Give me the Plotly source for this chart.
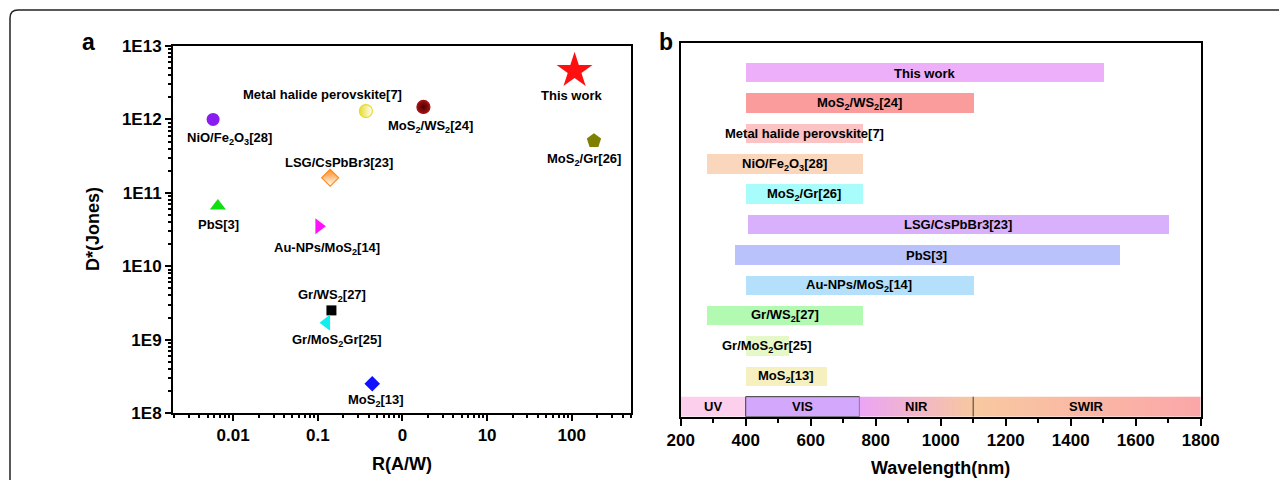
import numpy as np
import plotly.graph_objects as go

W, H = 1287, 480
FONT = "Liberation Sans"
OFF = 8  # page body margin

# ---------------- Panel a data ----------------
names_a = ["NiO/Fe<sub>2</sub>O<sub>3</sub>[28]", "PbS[3]", "Au-NPs/MoS<sub>2</sub>[14]",
           "Gr/WS<sub>2</sub>[27]", "Gr/MoS<sub>2</sub>Gr[25]", "MoS<sub>2</sub>[13]",
           "LSG/CsPbBr3[23]", "Metal halide perovskite[7]", "MoS<sub>2</sub>/WS<sub>2</sub>[24]",
           "This work", "MoS<sub>2</sub>/Gr[26]"]
responsivity = [0.0058, 0.0066, 0.103, 0.145, 0.127, 0.44, 0.14, 0.37, 1.77, 108, 183]
detectivity = [1.0e12, 6.6e10, 3.5e10, 2.5e9, 1.7e9, 2.5e8, 1.6e11, 1.3e12, 1.48e12, 4.6e12, 5.1e11]
r_tickvals = [0.01, 0.1, 1, 10, 100]
r_ticktext = ["0.01", "0.1", "0", "10", "100"]
d_tickvals = [1e8, 1e9, 1e10, 1e11, 1e12, 1e13]
d_ticktext = ["1E8", "1E9", "1E10", "1E11", "1E12", "1E13"]

# styles for panel a
sym_a = ["circle", "triangle-up", "triangle-right", "square", "triangle-left", "diamond",
         "diamond", "circle", "circle", "star", "pentagon"]
col_a = ["#8a1cf2", "#10e010", "#ff10ff", "#000000", "#10eef0", "#1010ff",
         "#ff8a1c", "#e6dc2a", "#a01010", "#ff1010", "#7f7f00"]
size_a = [13, 14, 14, 10, 14, 12, 13, 13, 13, 27, 15]
grad_a = [None, None, None, None, None, None,
          ("vertical", "#ffffff"), ("horizontal", "#ffffff"), ("radial", "#4a0000"), None, None]
# label offsets in pixels (dx right, dy down)
lab_off_a = [(16, 19), (1, 18), (8, 22), (1, -15), (10, 18), (4, 17),
             (9, -15), (-43, -17), (7, 20), (-3, 25), (-10, 19)]

# ---------------- Panel b data ----------------
names_b = ["This work", "MoS<sub>2</sub>/WS<sub>2</sub>[24]", "Metal halide perovskite[7]",
           "NiO/Fe<sub>2</sub>O<sub>3</sub>[28]", "MoS<sub>2</sub>/Gr[26]", "LSG/CsPbBr3[23]",
           "PbS[3]", "Au-NPs/MoS<sub>2</sub>[14]", "Gr/WS<sub>2</sub>[27]",
           "Gr/MoS<sub>2</sub>Gr[25]", "MoS<sub>2</sub>[13]"]
start_nm = [400, 400, 400, 280, 400, 405, 365, 400, 280, 400, 400]
end_nm = [1500, 1100, 760, 760, 760, 1700, 1550, 1100, 760, 532, 650]
rows_b = [11, 10, 9, 8, 7, 6, 5, 4, 3, 2, 1]
col_b = ["#edaefa", "#fa9c9c", "#fbc3c3", "#f9d6bc", "#a8fcfb", "#d8b0fb",
         "#b9c2fb", "#b5e0fb", "#b2f9b2", "#e6f7c8", "#f6f0c0"]

band_names = ["UV", "VIS", "NIR", "SWIR"]
band_edges = [200, 400, 750, 1100, 1800]
band_c0 = ["#fcd0ec", "#d3a7fb", "#eba5f6", "#f8c9a0"]
band_c1 = ["#fcd0ec", "#d3a7fb", "#f7c79f", "#fba6a9"]
wl_ticks = [200, 400, 600, 800, 1000, 1200, 1400, 1600, 1800]


def px(x):
    return (x - OFF) / W


def py(y):
    return 1 - (y - OFF) / H


fig = go.Figure()

# ---------- panel a traces ----------
for i in range(len(names_a)):
    mk = dict(symbol=sym_a[i], color=col_a[i], size=size_a[i], line=dict(width=0))
    if grad_a[i] is not None:
        mk["gradient"] = dict(type=grad_a[i][0], color=grad_a[i][1])
        mk["line"] = dict(width=1.2, color=col_a[i])
    fig.add_trace(go.Scatter(x=[responsivity[i]], y=[detectivity[i]], mode="markers",
                             marker=mk, xaxis="x", yaxis="y", showlegend=False,
                             hoverinfo="skip", cliponaxis=False))
    fig.add_annotation(x=np.log10(responsivity[i]), y=np.log10(detectivity[i]),
                       xref="x", yref="y", text=names_a[i], showarrow=False,
                       xanchor="center", yanchor="middle",
                       xshift=lab_off_a[i][0], yshift=-lab_off_a[i][1],
                       font=dict(size=13, color="black", family=FONT, weight="bold"))

# ---------- panel b traces ----------
widths = [e - s for s, e in zip(start_nm, end_nm)]
fig.add_trace(go.Bar(y=rows_b, x=widths, base=start_nm, orientation="h", width=0.64,
                     marker=dict(color=col_b, line=dict(width=0)),
                     xaxis="x2", yaxis="y2", showlegend=False, hoverinfo="skip"))
for i in range(len(names_b)):
    fig.add_annotation(x=(start_nm[i] + end_nm[i]) / 2, y=rows_b[i], xref="x2", yref="y2",
                       text=names_b[i], showarrow=False, xanchor="center", yanchor="middle",
                       font=dict(size=13, color="black", family=FONT, weight="bold"))

band_bottom, band_top = -0.32, 0.34
for i in range(len(band_names)):
    x0, x1 = band_edges[i], band_edges[i + 1]
    outline = dict(width=1, color="#3a3a3a") if band_names[i] == "VIS" else dict(width=0, color="rgba(0,0,0,0)")
    fig.add_trace(go.Scatter(x=[x0, x1, x1, x0, x0],
                             y=[band_bottom, band_bottom, band_top, band_top, band_bottom],
                             mode="lines", fill="toself", line=outline,
                             fillgradient=dict(type="horizontal",
                                               colorscale=[[0, band_c0[i]], [1, band_c1[i]]]),
                             xaxis="x2", yaxis="y2", showlegend=False, hoverinfo="skip"))
    fig.add_annotation(x=(x0 + x1) / 2, y=(band_bottom + band_top) / 2, xref="x2", yref="y2",
                       text=band_names[i], showarrow=False, xanchor="center", yanchor="middle",
                       font=dict(size=13, color="black", family=FONT, weight="bold"))
# dark divider at NIR/SWIR boundary
fig.add_trace(go.Scatter(x=[band_edges[3], band_edges[3]], y=[band_bottom, band_top],
                         mode="lines", line=dict(width=1, color="#3a3a3a"),
                         xaxis="x2", yaxis="y2", showlegend=False, hoverinfo="skip"))

axis_common = dict(showline=True, linecolor="black", linewidth=2, mirror=True,
                   showgrid=False, zeroline=False, ticks="outside", tickcolor="black",
                   tickwidth=1.8, ticklen=6, automargin=False,
                   tickfont=dict(size=17, color="black", family=FONT, weight="bold"))

fig.update_layout(
    width=W, height=H, autosize=False,
    margin=dict(l=0, r=0, t=0, b=0, pad=0, autoexpand=False),
    paper_bgcolor="white", plot_bgcolor="white",
    font=dict(family=FONT, color="black", weight="bold"),
    bargap=0,
    xaxis=dict(axis_common, type="log", domain=[px(173), px(631)], range=[-2.71, 2.70],
               tickmode="array", tickvals=r_tickvals, ticktext=r_ticktext, anchor="y",
               minor=dict(ticks="outside", ticklen=3, tickwidth=1.5, tickcolor="black",
                          dtick="D1", showgrid=False)),
    yaxis=dict(axis_common, type="log", domain=[py(413), py(46)], range=[8, 13],
               tickmode="array", tickvals=d_tickvals, ticktext=d_ticktext, anchor="x",
               minor=dict(ticks="outside", ticklen=3, tickwidth=1.5, tickcolor="black",
                          dtick="D1", showgrid=False)),
    xaxis2=dict(axis_common, domain=[px(680.7), px(1200.7)], range=[200, 1800],
                tickmode="array", tickvals=wl_ticks, anchor="y2", ticklen=7,
                minor=dict(ticks="outside", ticklen=4, tickwidth=1.5, tickcolor="black",
                           dtick=100, showgrid=False)),
    yaxis2=dict(showline=True, linecolor="black", linewidth=2, mirror=True, automargin=False,
                showgrid=False, zeroline=False, showticklabels=False, ticks="",
                domain=[py(416.7), py(43.3)], range=[-0.32, 11.98], anchor="x2"),
)

title_font = dict(size=18, family=FONT, weight="bold", color="black")
fig.add_annotation(x=px(93), y=py(229), xref="paper", yref="paper", text="D*(Jones)",
                   textangle=-90, showarrow=False, xanchor="center", yanchor="middle",
                   font=title_font)
fig.add_annotation(x=px(402), y=py(464), xref="paper", yref="paper", text="R(A/W)",
                   showarrow=False, xanchor="center", yanchor="middle", font=title_font)
fig.add_annotation(x=px(940.7), y=py(468), xref="paper", yref="paper", text="Wavelength(nm)",
                   showarrow=False, xanchor="center", yanchor="middle", font=title_font)
fig.add_annotation(x=px(88), y=py(42), xref="paper", yref="paper", text="a",
                   showarrow=False, xanchor="center", yanchor="middle",
                   font=dict(size=23, family=FONT, weight="bold", color="black"))
fig.add_annotation(x=px(666), y=py(42), xref="paper", yref="paper", text="b",
                   showarrow=False, xanchor="center", yanchor="middle",
                   font=dict(size=23, family=FONT, weight="bold", color="black"))

# outer rounded frame (open at right and bottom)
r = 8
path = (f"M {px(10)},{py(490)} L {px(10)},{py(10 + r)} "
        f"Q {px(10)},{py(10)} {px(10 + r)},{py(10)} L {px(1295)},{py(10)}")
fig.add_shape(type="path", path=path, xref="paper", yref="paper",
              line=dict(color="#222222", width=1.5))

fig.write_html("out.html")
